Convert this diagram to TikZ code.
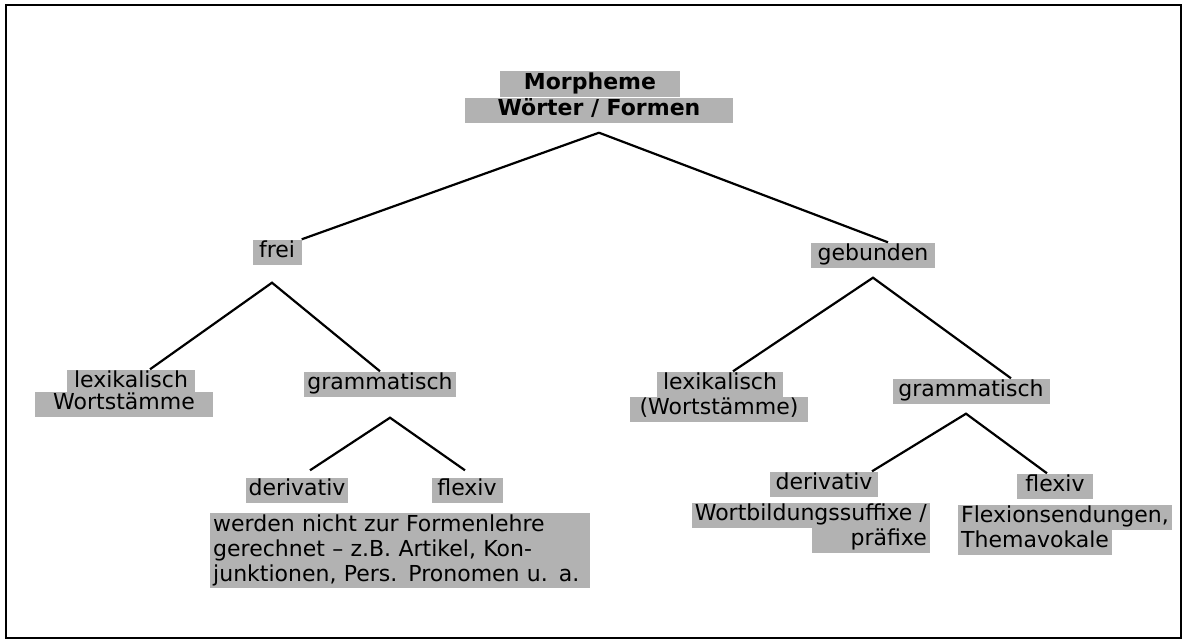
\documentclass[tikz,border=0pt]{standalone}
\usepackage{fontspec}
\setmainfont{DejaVu Sans}
\begin{document}
\begin{tikzpicture}[x=1pt,y=-1pt,
  base/.style={fill=black!30, inner xsep=3pt, inner ysep=2pt, font=\fontsize{22}{25}\selectfont},
  hl/.style={base, text height=16pt, text depth=5pt},
  rt/.style={hl, font=\bfseries\fontsize{22}{25}\selectfont},
  conn/.style={line width=2.2pt},
  frm/.style={line width=2.8pt}]
\useasboundingbox (0,0) rectangle (1189,642);
\draw[frm] (6,5) rectangle (1181,638);

\node[rt, minimum width=180pt] (m1) at (590,84) {Morpheme};
\node[rt, minimum width=268pt] (m2) at (599,110) {Wörter / Formen};

\node[hl, minimum width=49pt] (frei) at (277,252) {frei};
\node[hl, minimum width=124pt] (geb) at (873,255) {gebunden};

\node[hl, minimum width=128pt] (lexL1) at (131,382) {lexikalisch};
\node[hl, minimum width=178pt] (lexL2) at (124,404) {Wortstämme};
\node[hl] (gramL) at (380,384) {grammatisch};

\node[hl, minimum width=126pt] (lexR1) at (720,384) {lexikalisch};
\node[hl, minimum width=178pt] (lexR2) at (719,409) {(Wortstämme)};
\node[hl, minimum width=157pt] (gramR) at (971,391) {grammatisch};

\node[hl, minimum width=100pt] (derL) at (297,490) {derivativ};
\node[hl, minimum width=71pt] (flexL) at (467,490) {flexiv};
\node[base, anchor=north west, text width=374pt, align=left] (noteL) at (210,513)
  {werden nicht zur Formenlehre\\ gerechnet – z.B. Artikel, Kon-\\ junktionen, Pers. Pronomen u. a.};

\node[hl, minimum width=108pt] (derR) at (824,484) {derivativ};
\node[hl, minimum width=76pt] (flexR) at (1055,486) {flexiv};
\node[hl, anchor=east] (wb1) at (930,515) {Wortbildungssuffixe /};
\node[hl, anchor=east, text width=112pt, align=right] (wb2) at (930,540) {präfixe};
\node[hl, anchor=west, minimum width=190pt] (fx1) at (958,517) {Flexionsendungen,};
\node[hl, anchor=west] (fx2) at (958,542) {Themavokale};

\draw[conn] ([yshift=-10pt]m2.south) -- (frei.north east);
\draw[conn] ([yshift=-10pt]m2.south) -- ([xshift=15pt]geb.north);

\draw[conn] ([xshift=19pt]lexL1.north) -- ([shift={(-5pt,-18pt)}]frei.south) -- (gramL.north);
\draw[conn] ([xshift=13pt]lexR1.north) -- ([yshift=-10pt]geb.south) -- ([xshift=40pt]gramR.north);

\draw[conn] ([shift={(13pt,7pt)}]derL.north) -- ([shift={(10pt,-21pt)}]gramL.south) -- ([shift={(-2pt,7pt)}]flexL.north);
\draw[conn] ([xshift=48pt]derR.north) -- ([shift={(-5pt,-10pt)}]gramR.south) -- ([xshift=-8pt]flexR.north);
\end{tikzpicture}
\end{document}
